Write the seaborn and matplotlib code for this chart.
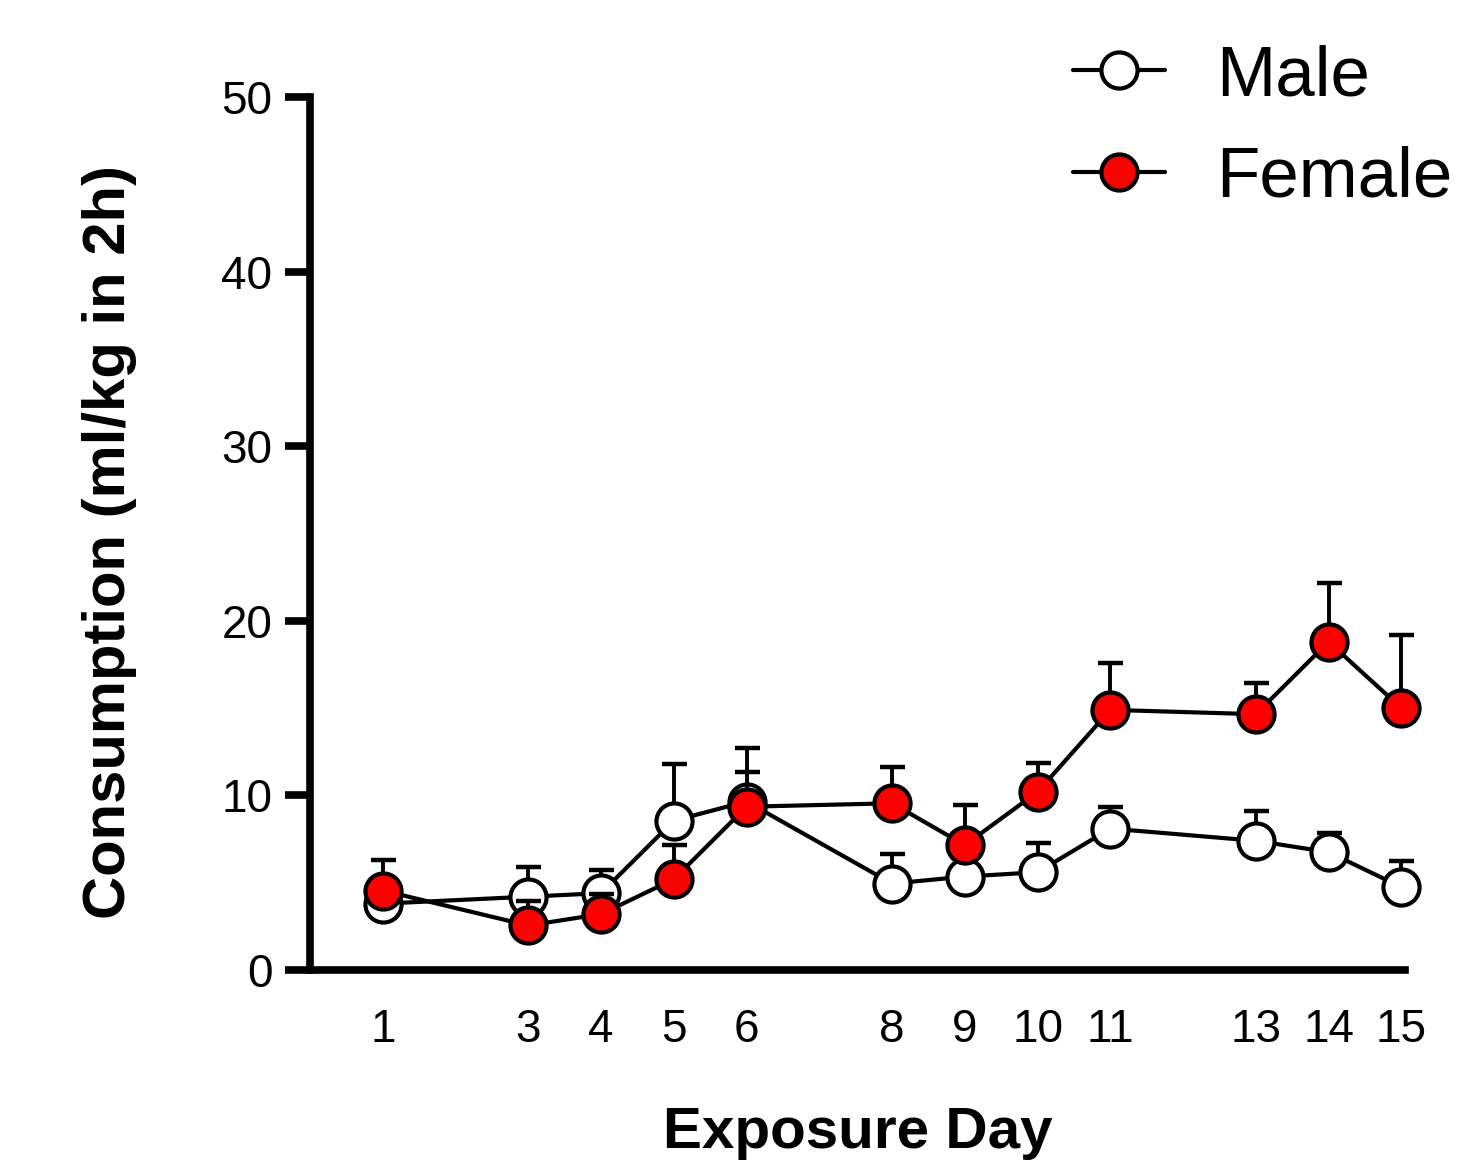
import numpy as np
import pandas as pd
import matplotlib
matplotlib.use("Agg")
import matplotlib.pyplot as plt
import seaborn as sns
from matplotlib.lines import Line2D

# ---- data ----
days = [1, 3, 4, 5, 6, 8, 9, 10, 11, 13, 14, 15]
male_mean = [3.8, 4.2, 4.4, 8.55, 9.65, 4.95, 5.35, 5.6, 8.1, 7.4, 6.75, 4.75]
male_sem = [1.0, 1.68, 1.3, 3.24, 1.7, 1.68, 1.2, 1.66, 1.25, 1.72, 1.09, 1.5]
female_mean = [4.55, 2.55, 3.2, 5.2, 9.35, 9.55, 7.15, 10.2, 14.9, 14.65, 18.8, 15.0]
female_sem = [1.73, 1.4, 1.17, 1.98, 3.34, 2.05, 2.29, 1.66, 2.67, 1.78, 3.35, 4.17]
y_ticks = [0, 10, 20, 30, 40, 50]
series_names = ["Male", "Female"]

sns.set_theme(style="white")
plt.rcParams["font.family"] = ["Liberation Sans", "DejaVu Sans"]
plt.rcParams["text.color"] = "black"

fig = plt.figure(figsize=(14.58, 11.62), dpi=100)
ax = fig.add_axes([310 / 1458, 1 - 970 / 1162, 1095 / 1458, 873 / 1162])

ms = 26
mew = 3.0
lw = 3.0

df_m = pd.DataFrame({"day": days, "val": male_mean})
df_f = pd.DataFrame({"day": days, "val": female_mean})

# male error bars (upper only)
ax.errorbar(days, male_mean, yerr=[np.zeros(len(days)), male_sem], fmt="none",
            ecolor="black", elinewidth=2.8, capsize=9, capthick=3.2, zorder=1, clip_on=False)
sns.lineplot(data=df_m, x="day", y="val", ax=ax, color="black", linewidth=lw,
             marker="o", markersize=ms, markerfacecolor="white", markeredgecolor="black",
             markeredgewidth=mew, zorder=2, clip_on=False, errorbar=None)
ax.errorbar(days, female_mean, yerr=[np.zeros(len(days)), female_sem], fmt="none",
            ecolor="black", elinewidth=2.8, capsize=9, capthick=3.2, zorder=3, clip_on=False)
sns.lineplot(data=df_f, x="day", y="val", ax=ax, color="black", linewidth=lw,
             marker="o", markersize=ms, markerfacecolor="#ff0000", markeredgecolor="black",
             markeredgewidth=mew, zorder=4, clip_on=False, errorbar=None)

ax.set_xlim(0, 15.05)
ax.set_ylim(0, 50)
ax.set_xticks(days)
ax.set_xticklabels([str(d) for d in days])
ax.set_yticks(y_ticks)
ax.set_yticklabels([str(t) for t in y_ticks])

for s in ["top", "right"]:
    ax.spines[s].set_visible(False)
for s in ["left", "bottom"]:
    ax.spines[s].set_linewidth(5.5)
    ax.spines[s].set_color("black")

ax.tick_params(axis="y", which="major", direction="out", length=18, width=5.5,
               pad=9, labelsize=33, colors="black", left=True)
ax.tick_params(axis="x", which="major", length=0, pad=27, labelsize=33, colors="black")

ax.set_xlabel("Exposure Day", fontsize=42, fontweight="bold", color="black")
ax.set_ylabel("Consumption (ml/kg in 2h)", fontsize=43, fontweight="bold", color="black")
ax.xaxis.set_label_coords(0.50, -0.156)
ax.yaxis.set_label_coords(-0.158, 0.49)

handles = [
    Line2D([], [], color="black", linewidth=lw, marker="o", markersize=ms,
           markerfacecolor="white", markeredgecolor="black", markeredgewidth=mew),
    Line2D([], [], color="black", linewidth=lw, marker="o", markersize=ms,
           markerfacecolor="#ff0000", markeredgecolor="black", markeredgewidth=mew),
]
leg = fig.legend(handles, series_names, loc="upper left",
                 bbox_to_anchor=(1073 / 1458, 1 - 44 / 1162), frameon=False,
                 fontsize=51, handlelength=1.3, handletextpad=0.72, labelspacing=0.5,
                 borderpad=0, borderaxespad=0)
for t in leg.get_texts():
    t.set_color("black")

fig.savefig("out.png", dpi=100, facecolor="white")
